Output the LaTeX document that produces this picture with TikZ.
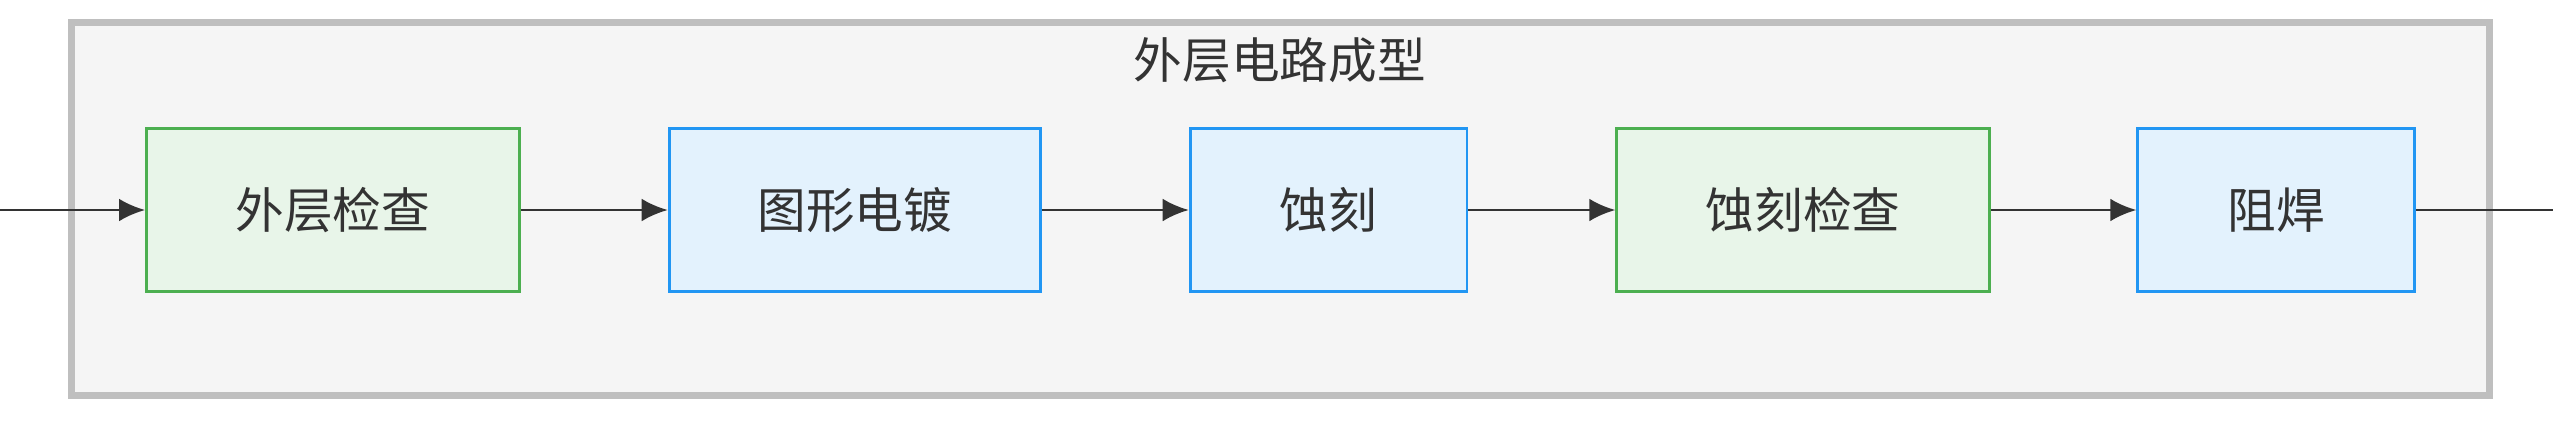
\documentclass[tikz,border=0pt]{standalone}
\usepackage{fontspec}
\setmainfont{Noto Sans CJK SC}
\usetikzlibrary{arrows.meta}
\definecolor{gfill}{HTML}{E8F5E9}
\definecolor{gline}{HTML}{4CAF50}
\definecolor{bfill}{HTML}{E3F2FD}
\definecolor{bline}{HTML}{2196F3}
\definecolor{txt}{HTML}{333333}
\begin{document}
\begin{tikzpicture}[x=0.1mm,y=-0.1mm,
  box/.style={line width=0.5pt,minimum height=10mm,inner sep=0pt,font=\fontsize{8.5pt}{10pt}\selectfont,text=txt},
  grn/.style={box,draw=gline,fill=gfill},
  blu/.style={box,draw=bline,fill=bfill},
  arr/.style={-{Latex[length=1.6mm,width=1.4mm]},draw=txt,line width=0.5pt}]
\useasboundingbox (0,0) rectangle (1568,258);
\draw[fill=black!4,draw=black!25,line width=1.2pt] (44,14) rectangle (1529,243);
\node[font=\fontsize{8.5pt}{10pt}\selectfont,text=txt] (title) at (786,37) {外层电路成型};
\node[grn,minimum width=22.9mm] (a) at (204.5,129) {外层检查};
\node[blu,minimum width=22.8mm] (b) at (525,129) {图形电镀};
\node[blu,minimum width=17mm] (c) at (816,129) {蚀刻};
\node[grn,minimum width=22.9mm] (d) at (1107.5,129) {蚀刻检查};
\node[blu,minimum width=17mm] (e) at (1398,129) {阻焊};
\coordinate (in) at (0,129);
\coordinate (out) at (1568,129);
\draw[arr] (in) -- (a);
\draw[arr] (a) -- (b);
\draw[arr] (b) -- (c);
\draw[arr] (c) -- (d);
\draw[arr] (d) -- (e);
\draw[draw=txt,line width=0.5pt] (e) -- (out);
\end{tikzpicture}
\end{document}
